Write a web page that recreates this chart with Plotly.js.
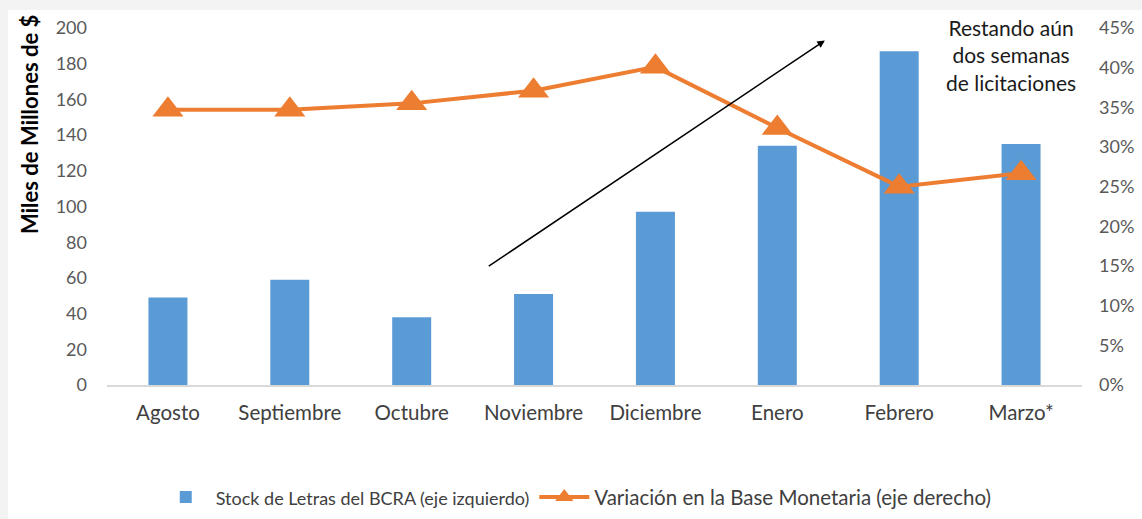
<!DOCTYPE html>
<html>
<head>
<meta charset="UTF-8">
<title>Letras del BCRA y Base Monetaria</title>
<script src="https://cdn.plot.ly/plotly-3.0.1.min.js"></script>
<style>
  body, html { margin: 0; padding: 0; background: #f3f3f3; }
  #chart { position: absolute; left: 8px; top: 10px; width: 1134px; height: 509px; background: #ffffff; }
</style>
</head>
<body>
<div id="chart"></div>
<script>
  const months = ['Agosto', 'Septiembre', 'Octubre', 'Noviembre', 'Diciembre', 'Enero', 'Febrero', 'Marzo*'];
  const stockLetras = [49, 59, 38, 51, 97, 134, 187, 135];
  const variacionBase = [0.347, 0.347, 0.355, 0.371, 0.401, 0.324, 0.250, 0.267];

  const font = 'Lato, "Open Sans", sans-serif';

  const bars = {
    x: months,
    y: stockLetras,
    type: 'bar',
    name: '<span style="font-size:18px">Stock de Letras del BCRA (eje izquierdo)</span>',
    marker: { color: '#5b9bd5' },
    width: 0.32
  };
  const line = {
    x: months,
    y: variacionBase,
    yaxis: 'y2',
    type: 'scatter',
    mode: 'lines+markers',
    name: 'Variación en la Base Monetaria (eje derecho)',
    line: { color: '#ed7d31', width: 4 },
    marker: { symbol: 'triangle-up', size: 27, color: '#ed7d31' }
  };

  const layout = {
    width: 1134,
    height: 509,
    margin: { l: 99, r: 60, t: 18, b: 134, autoexpand: false },
    paper_bgcolor: '#ffffff',
    plot_bgcolor: '#ffffff',
    font: { family: font, color: '#595959', size: 18 },
    showlegend: true,
    legend: {
      orientation: 'h',
      x: 0.05, xanchor: 'left',
      y: -0.314, yanchor: 'middle',
      font: { size: 20.5, color: '#404040' },
      itemwidth: 50
    },
    xaxis: {
      type: 'category',
      range: [-0.5, 7.5],
      automargin: false,
      showline: true,
      linecolor: '#d9d9d9',
      linewidth: 1.5,
      showgrid: false,
      ticks: '',
      ticklabelstandoff: 9,
      tickfont: { size: 20.5, color: '#404040' }
    },
    yaxis: {
      range: [0, 200],
      dtick: 20,
      automargin: false,
      showgrid: false,
      zeroline: false,
      showline: false,
      ticklabelstandoff: 19,
      tickfont: { size: 18, color: '#595959' }
    },
    yaxis2: {
      overlaying: 'y',
      side: 'right',
      range: [0, 0.45],
      dtick: 0.05,
      tickformat: '.0%',
      automargin: false,
      showgrid: false,
      zeroline: false,
      showline: false,
      ticklabelstandoff: 16,
      tickfont: { size: 18, color: '#595959' }
    },
    annotations: [
      {
        xref: 'x', yref: 'y', axref: 'x', ayref: 'y',
        x: 5.39, y: 193, ax: 2.62, ay: 66,
        text: '', showarrow: true,
        arrowhead: 2, arrowsize: 1, arrowwidth: 1.5, arrowcolor: '#000000'
      },
      {
        xref: 'x', yref: 'y',
        x: 6.92, y: 185,
        xanchor: 'center', yanchor: 'middle',
        text: 'Restando aún<br>dos semanas<br>de licitaciones',
        showarrow: false,
        align: 'center',
        font: { family: font, size: 21, color: '#1a1a1a' }
      },
      {
        xref: 'paper', yref: 'paper',
        x: -0.08, y: 0.728,
        xanchor: 'center', yanchor: 'middle',
        text: '<b>Miles de Millones de $</b>',
        textangle: -90,
        showarrow: false,
        font: { family: font, size: 22, color: '#000000' }
      }
    ]
  };

  Plotly.newPlot('chart', [bars, line], layout, { displayModeBar: false, staticPlot: true });
</script>
</body>
</html>
